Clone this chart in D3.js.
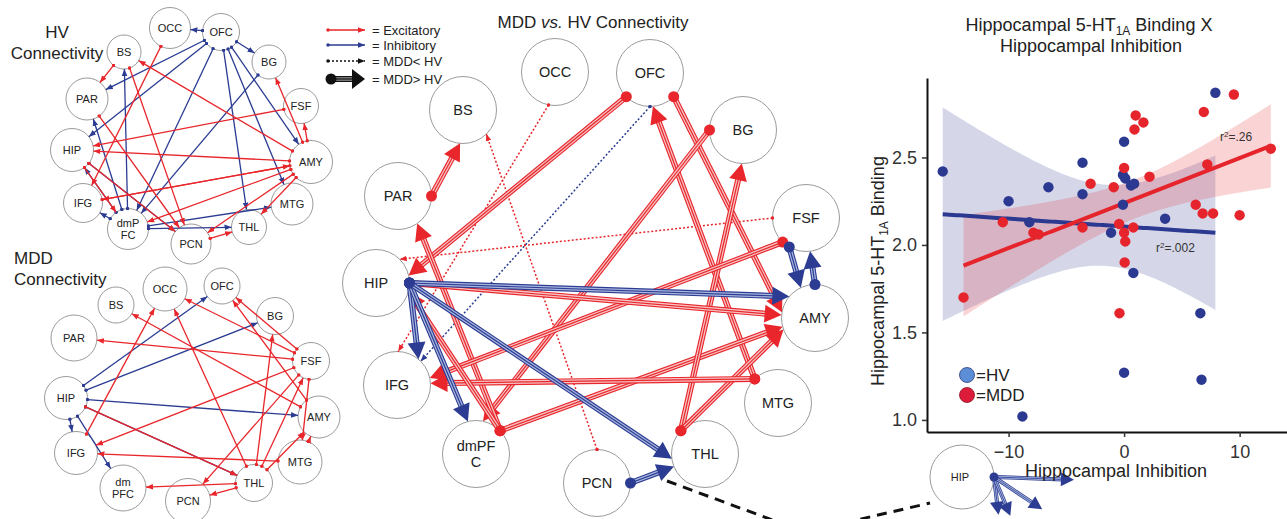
<!DOCTYPE html>
<html>
<head>
<meta charset="utf-8">
<script src="https://cdn.jsdelivr.net/npm/d3@7/dist/d3.min.js"></script>
<style>
  body { margin: 0; background: #fff; }
  svg { display: block; font-family: "Liberation Sans", Arial, sans-serif; }
</style>
</head>
<body>
<svg id="fig" width="1287" height="519"></svg>
<script>
// ---------------- data ----------------
var regionNames = ["OCC", "OFC", "BS", "BG", "PAR", "FSF", "HIP", "AMY", "IFG", "MTG", "dmPFC", "THL", "PCN"];

// effective connections [from, to, sign]  (+1 excitatory, -1 inhibitory)
var hvEdges = [
  ["OFC", "OCC", -1], ["OFC", "BG", -1], ["OFC", "PAR", -1], ["OFC", "HIP", -1], ["OFC", "dmPFC", -1],
  ["OFC", "AMY", -1], ["OFC", "MTG", -1], ["OFC", "THL", -1], ["BG", "dmPFC", -1], ["dmPFC", "BS", -1],
  ["dmPFC", "PAR", -1], ["dmPFC", "HIP", -1], ["dmPFC", "IFG", -1], ["dmPFC", "MTG", -1],
  ["dmPFC", "THL", -1], ["HIP", "PCN", -1],
  ["BS", "PAR", 1], ["OCC", "IFG", 1], ["AMY", "BS", 1], ["AMY", "BG", 1], ["AMY", "FSF", 1],
  ["FSF", "HIP", 1], ["AMY", "HIP", 1], ["IFG", "AMY", 1], ["AMY", "IFG", 1], ["AMY", "PCN", 1],
  ["AMY", "THL", 1], ["PAR", "PCN", 1], ["BS", "PCN", 1], ["HIP", "dmPFC", 1], ["HIP", "PCN", 1],
  ["PCN", "THL", 1], ["AMY", "dmPFC", 1]
];

var mddEdges = [
  ["HIP", "OFC", -1], ["HIP", "BG", -1], ["HIP", "AMY", -1], ["HIP", "IFG", -1], ["HIP", "dmPFC", -1],
  ["HIP", "THL", -1],
  ["IFG", "OCC", 1], ["FSF", "OCC", 1], ["FSF", "PAR", 1], ["AMY", "BS", 1], ["AMY", "OFC", 1],
  ["FSF", "OFC", 1], ["THL", "OCC", 1], ["THL", "BG", 1], ["THL", "FSF", 1], ["FSF", "IFG", 1],
  ["FSF", "PCN", 1], ["FSF", "MTG", 1], ["THL", "AMY", 1], ["MTG", "IFG", 1], ["THL", "dmPFC", 1],
  ["THL", "PCN", 1], ["HIP", "THL", 1], ["MTG", "AMY", 1]
];

// MDD vs HV: [from, to, sign, change]  change +1 = MDD > HV, -1 = MDD < HV
var diffEdges = [
  ["FSF", "HIP", 1, -1], ["PCN", "BS", 1, -1], ["OCC", "IFG", 1, -1], ["OFC", "IFG", -1, -1],
  ["PAR", "BS", 1, 1], ["OFC", "HIP", 1, 1], ["OFC", "AMY", 1, 1], ["MTG", "OFC", 1, 1],
  ["BG", "dmPFC", 1, 1], ["dmPFC", "PAR", 1, 1], ["dmPFC", "AMY", 1, 1], ["THL", "BG", 1, 1],
  ["THL", "AMY", 1, 1], ["MTG", "IFG", 1, 1], ["FSF", "IFG", 1, 1], ["HIP", "AMY", 1, 1],
  ["dmPFC", "HIP", 1, 1],
  ["HIP", "AMY", -1, 1], ["HIP", "IFG", -1, 1], ["HIP", "dmPFC", -1, 1], ["HIP", "THL", -1, 1],
  ["PCN", "THL", -1, 1], ["FSF", "AMY", -1, 1], ["AMY", "FSF", -1, 1]
];

// scatter: hippocampal inhibition (x) vs hippocampal 5-HT1A binding (y)
var hvInhibition = [-15.7, -10.0, -8.2, -6.55, -3.6, -3.6, -1.13, 0.0, -0.1, 0.1, 0.6, 0.87, -0.1, 3.55, 0.8, 7.9, 6.6, 0.0, 6.7, -8.8];
var hvBinding    = [2.42, 2.25, 2.13, 2.33, 2.47, 2.29, 2.07, 2.59, 2.40, 2.38, 2.34, 2.35, 2.23, 2.15, 1.84, 2.87, 1.61, 1.27, 1.23, 1.02];
var mddInhibition = [-13.9, -10.5, -7.85, -7.4, -3.6, -2.9, -0.9, 0.0, -0.43, 0.0, 0.1, 0.8, 0.05, -0.4, 1.0, 0.9, 1.67, 2.2, 6.2, 6.8, 7.7, 7.2, 6.9, 9.5, 10.0, 12.7];
var mddBinding    = [1.70, 2.13, 2.07, 2.06, 2.10, 2.35, 2.33, 2.44, 2.12, 2.07, 2.02, 2.10, 1.90, 1.61, 2.74, 2.66, 2.70, 2.39, 2.23, 2.18, 2.18, 2.46, 2.76, 2.86, 2.17, 2.55];
var xTickValues = [-10, 0, 10];
var yTickValues = [1.0, 1.5, 2.0, 2.5];
var r2Values = [".26", ".002"];

// ---------------- layout ----------------
var RED = "#e8262b", BLUE = "#2b3c92", RED_IN = "#f7c3c3", BLUE_IN = "#a9b6df";

// node centre x, y and radius for each diagram
var hvLayout = {OCC: [170, 28, 20.5], OFC: [221, 32, 18.5], BS: [124, 52, 17], BG: [269, 62, 17],
  PAR: [87, 99, 21], FSF: [301, 106, 17.5], HIP: [72, 150, 21.5], AMY: [311, 162, 21.5],
  IFG: [83, 203, 19.5], MTG: [292, 204, 21], dmPFC: [128, 229, 20.5], THL: [249, 227, 17.5], PCN: [191, 244, 20]};
var mddLayout = {OCC: [165, 289, 22], OFC: [222, 286, 18], BS: [116, 305, 18], BG: [275, 316, 18.5],
  PAR: [74, 338, 23], FSF: [311, 361, 18.5], HIP: [66, 398, 21.5], AMY: [319, 417, 21],
  IFG: [76, 453, 21.5], MTG: [300, 462, 22], dmPFC: [123, 488, 23], THL: [254, 483, 18.5], PCN: [188, 501, 22.5]};
var diffLayout = {OCC: [555, 72, 33.5], OFC: [650, 73, 33.5], BS: [463, 110, 33.5], BG: [743, 130, 33.5],
  PAR: [398, 196, 33.5], FSF: [806, 218, 33.5], HIP: [376, 283, 33.5], AMY: [815, 318, 33.5],
  IFG: [397, 385, 33.5], MTG: [778, 403, 33.5], dmPFC: [476, 454, 33.5], THL: [705, 454, 33.5], PCN: [597, 483, 33.5]};
// where each MDD vs HV edge leaves / meets its circles (degrees, svg orientation)
var diffAnchors = [
  [180, -45], [-90, 46], [101, -88], [90, -45],
  [0, 95], [135, -13], [45, 190], [226, 85],
  [180, -78], [-44, 55], [-44, 165], [-136, 92],
  [-136, 160], [226, -3], [134, -12], [0, 185],
  [-44, 15],
  [0, 220], [0, -50], [0, -104], [0, 172],
  [0, 158], [120, -115], [-90, 83]
];
var hvLabels = {dmPFC: "dmP\nFC"}, mddLabels = {dmPFC: "dm\nPFC"}, diffLabels = {dmPFC: "dmPF\nC"};

var svg = d3.select("#fig");
var defs = svg.append("defs");
[["R", RED], ["B", BLUE], ["K", "#111"]].forEach(function(m) {
  defs.append("marker").attr("id", "arr" + m[0]).attr("viewBox", "0 -5 10 10")
    .attr("refX", 10).attr("refY", 0).attr("markerWidth", 7).attr("markerHeight", 7)
    .attr("markerUnits", "userSpaceOnUse").attr("orient", "auto")
    .append("path").attr("d", "M0,-4L10,0L0,4Z").attr("fill", m[1]);
  defs.append("marker").attr("id", "dot" + m[0]).attr("viewBox", "-5 -5 10 10")
    .attr("refX", 0).attr("refY", 0).attr("markerWidth", 3.5).attr("markerHeight", 3.5)
    .attr("markerUnits", "userSpaceOnUse")
    .append("circle").attr("r", 5).attr("fill", m[1]);
});

function rad(a) { return a * Math.PI / 180; }
function onCircle(n, a) { return [n[0] + n[2] * Math.cos(rad(a)), n[1] + n[2] * Math.sin(rad(a))]; }

function drawNodes(g, layout, labels, fs) {
  var nodes = regionNames.map(function(k) { return {id: k, x: layout[k][0], y: layout[k][1], r: layout[k][2]}; });
  g.selectAll("circle.node").data(nodes).join("circle").attr("class", "node")
    .attr("cx", function(d) { return d.x; }).attr("cy", function(d) { return d.y; })
    .attr("r", function(d) { return d.r; })
    .attr("fill", "#fff").attr("stroke", "#9b9b9b").attr("stroke-width", 1);
  g.selectAll("text.lab").data(nodes).join("text").attr("class", "lab")
    .attr("text-anchor", "middle").attr("font-size", fs).attr("fill", "#222")
    .attr("y", function(d) { return d.y; })
    .each(function(d) {
      var lines = (labels[d.id] || d.id).split("\n"), t = d3.select(this);
      lines.forEach(function(s, i) {
        t.append("tspan").attr("x", d.x)
          .attr("dy", i === 0 ? (0.35 - (lines.length - 1) * 0.55) + "em" : "1.1em").text(s);
      });
    });
}

function drawSmallNet(layout, edges, labels) {
  var g = svg.append("g");
  drawNodes(g, layout, labels, 11);
  g.selectAll("line.edge").data(edges).join("line").attr("class", "edge")
    .each(function(e) {
      var a = layout[e[0]], b = layout[e[1]];
      var dx = b[0] - a[0], dy = b[1] - a[1], len = Math.hypot(dx, dy), ux = dx / len, uy = dy / len;
      d3.select(this)
        .attr("x1", a[0] + ux * a[2]).attr("y1", a[1] + uy * a[2])
        .attr("x2", b[0] - ux * b[2]).attr("y2", b[1] - uy * b[2]);
    })
    .attr("stroke", function(e) { return e[2] > 0 ? RED : BLUE; })
    .attr("stroke-width", 1.3)
    .attr("marker-end", function(e) { return e[2] > 0 ? "url(#arrR)" : "url(#arrB)"; })
    .attr("marker-start", function(e) { return e[2] > 0 ? "url(#dotR)" : "url(#dotB)"; });
}

function thickArrow(g, p1, p2, col, inner, w, L, hw, dotR) {
  var dx = p2[0] - p1[0], dy = p2[1] - p1[1], len = Math.hypot(dx, dy), ux = dx / len, uy = dy / len;
  var bx = p2[0] - ux * L, by = p2[1] - uy * L;
  [[w, col], [w * 0.62, inner], [w * 0.2, col]].forEach(function(s) {
    g.append("line").attr("x1", p1[0]).attr("y1", p1[1]).attr("x2", bx + ux * 2).attr("y2", by + uy * 2)
      .attr("stroke", s[1]).attr("stroke-width", s[0]);
  });
  g.append("path").attr("fill", col)
    .attr("d", "M" + p2[0] + "," + p2[1] + "L" + (bx - uy * hw) + "," + (by + ux * hw) +
      "L" + (bx + uy * hw) + "," + (by - ux * hw) + "Z");
  if (dotR) g.append("circle").attr("cx", p1[0]).attr("cy", p1[1]).attr("r", dotR).attr("fill", col);
}

function dottedArrow(g, p1, p2, col, mk) {
  g.append("line").attr("x1", p1[0]).attr("y1", p1[1]).attr("x2", p2[0]).attr("y2", p2[1])
    .attr("stroke", col).attr("stroke-width", 1.5).attr("stroke-dasharray", "2,2")
    .attr("marker-end", "url(#arr" + mk + ")").attr("marker-start", "url(#dot" + mk + ")");
}

// ---------------- left: HV and MDD networks ----------------
drawSmallNet(hvLayout, hvEdges, hvLabels);
drawSmallNet(mddLayout, mddEdges, mddLabels);

var titles = svg.append("g").attr("font-size", 17).attr("fill", "#222");
titles.append("text").attr("x", 57).attr("y", 38).attr("text-anchor", "middle").text("HV");
titles.append("text").attr("x", 57).attr("y", 59).attr("text-anchor", "middle").text("Connectivity");
titles.append("text").attr("x", 14).attr("y", 264).text("MDD");
titles.append("text").attr("x", 14).attr("y", 285).text("Connectivity");

// ---------------- middle: MDD vs HV ----------------
var gd = svg.append("g");
drawNodes(gd, diffLayout, diffLabels, 14.5);
diffEdges.forEach(function(e, i) {
  var p1 = onCircle(diffLayout[e[0]], diffAnchors[i][0]);
  var p2 = onCircle(diffLayout[e[1]], diffAnchors[i][1]);
  var col = e[2] > 0 ? RED : BLUE;
  if (e[3] < 0) dottedArrow(gd, p1, p2, col, e[2] > 0 ? "R" : "B");
  else thickArrow(gd, p1, p2, col, e[2] > 0 ? RED_IN : BLUE_IN, 6, 17, 9, 5.5);
});

var mt = svg.append("text").attr("x", 593).attr("y", 28).attr("text-anchor", "middle")
  .attr("font-size", 17).attr("fill", "#222");
mt.append("tspan").text("MDD ");
mt.append("tspan").attr("font-style", "italic").text("vs.");
mt.append("tspan").text(" HV Connectivity");

// legend
var lg = svg.append("g").attr("font-size", 13).attr("fill", "#222");
var legendRows = [
  {label: "= Excitatory", y: 30, kind: "R"},
  {label: "= Inhibitory", y: 45, kind: "B"},
  {label: "= MDD< HV", y: 61, kind: "dot"},
  {label: "= MDD> HV", y: 79, kind: "thick"}
];
legendRows.forEach(function(r) {
  if (r.kind === "R" || r.kind === "B") {
    lg.append("line").attr("x1", 328).attr("x2", 365).attr("y1", r.y).attr("y2", r.y)
      .attr("stroke", r.kind === "R" ? RED : BLUE).attr("stroke-width", 1.4)
      .attr("marker-end", "url(#arr" + r.kind + ")").attr("marker-start", "url(#dot" + r.kind + ")");
  } else if (r.kind === "dot") {
    dottedArrow(lg, [328, r.y], [365, r.y], "#111", "K");
  } else {
    thickArrow(lg, [331, r.y], [365, r.y], "#111", "#888", 6, 13, 10, 5.5);
  }
  lg.append("text").attr("x", 372).attr("y", r.y + 5).text(r.label);
});

// inset: hippocampal outflow (blue, MDD > HV)
var insetNode = [962, 477, 32];
var insetLengths = [80, 38, 42, 58];
var gi = svg.append("g");
gi.append("circle").attr("cx", insetNode[0]).attr("cy", insetNode[1]).attr("r", insetNode[2])
  .attr("fill", "#fff").attr("stroke", "#9b9b9b");
gi.append("text").attr("x", insetNode[0] - 2).attr("y", insetNode[1] + 4).attr("text-anchor", "middle")
  .attr("font-size", 11).attr("fill", "#222").text("HIP");
var hipOut = diffEdges.map(function(e, i) { return [e, i]; })
  .filter(function(d) { return d[0][0] === "HIP" && d[0][2] < 0; });
var insetStart = onCircle(insetNode, 0);
hipOut.forEach(function(d, k) {
  var e = d[0], i = d[1];
  var a = onCircle(diffLayout[e[0]], diffAnchors[i][0]), b = onCircle(diffLayout[e[1]], diffAnchors[i][1]);
  var ang = Math.atan2(b[1] - a[1], b[0] - a[0]);
  var end = [insetStart[0] + Math.cos(ang) * insetLengths[k], insetStart[1] + Math.sin(ang) * insetLengths[k]];
  thickArrow(gi, insetStart, end, BLUE, BLUE_IN, 4, 13, 7, 0);
});
gi.append("circle").attr("cx", insetStart[0]).attr("cy", insetStart[1]).attr("r", 4.5).attr("fill", BLUE);

var leader = [[667, 481], [805, 532], [930, 503]];
svg.append("path").attr("d", d3.line()(leader)).attr("fill", "none")
  .attr("stroke", "#111").attr("stroke-width", 3).attr("stroke-dasharray", "10,7");

// ---------------- right: scatter ----------------
var x = d3.scaleLinear().domain([-17.06, 14.1]).range([927, 1287]);
var y = d3.scaleLinear().domain([0.931, 2.954]).range([432, 78]);

function linearFit(xs, ys, tcrit) {
  var n = xs.length, mx = d3.mean(xs), my = d3.mean(ys);
  var sxx = d3.sum(xs, function(v) { return (v - mx) * (v - mx); });
  var sxy = d3.sum(xs, function(v, i) { return (v - mx) * (ys[i] - my); });
  var b = sxy / sxx, a = my - b * mx;
  var sse = d3.sum(xs, function(v, i) { var r = ys[i] - (a + b * v); return r * r; });
  var s = Math.sqrt(sse / (n - 2));
  var lo = d3.min(xs), hi = d3.max(xs);
  return d3.range(0, 81).map(function(k) {
    var xv = lo + (hi - lo) * k / 80;
    var se = s * Math.sqrt(1 / n + (xv - mx) * (xv - mx) / sxx);
    var yv = a + b * xv;
    return {x: xv, y: yv, lo: yv - tcrit * se, hi: yv + tcrit * se};
  });
}

var groups = [
  {xs: hvInhibition, ys: hvBinding, col: "#2b3990", t: 2.101},
  {xs: mddInhibition, ys: mddBinding, col: "#e5242b", t: 2.064}
];
groups.forEach(function(gr) { gr.fit = linearFit(gr.xs, gr.ys, gr.t); });

var gs = svg.append("g");
var band = d3.area().x(function(d) { return x(d.x); })
  .y0(function(d) { return y(d.lo); }).y1(function(d) { return y(d.hi); });
var fitLine = d3.line().x(function(d) { return x(d.x); }).y(function(d) { return y(d.y); });
groups.forEach(function(gr) {
  gs.append("path").attr("d", band(gr.fit)).attr("fill", gr.col).attr("fill-opacity", 0.2);
});
groups.forEach(function(gr) {
  gs.append("path").attr("d", fitLine(gr.fit)).attr("fill", "none")
    .attr("stroke", gr.col).attr("stroke-width", 4);
});
groups.forEach(function(gr) {
  gs.selectAll(null).data(gr.xs).join("circle")
    .attr("cx", function(d) { return x(d); })
    .attr("cy", function(d, i) { return y(gr.ys[i]); })
    .attr("r", 5.2).attr("fill", gr.col);
});

var xAxis = svg.append("g").attr("transform", "translate(0,432)")
  .call(d3.axisBottom(x).tickValues(xTickValues).tickSize(5).tickSizeOuter(0).tickPadding(8));
var yAxis = svg.append("g").attr("transform", "translate(927,0)")
  .call(d3.axisLeft(y).tickValues(yTickValues).tickFormat(d3.format(".1f")).tickSize(5).tickSizeOuter(0).tickPadding(5));
[xAxis, yAxis].forEach(function(ax) {
  ax.attr("font-family", null).attr("font-size", 18);
  ax.select(".domain").attr("stroke", "#111").attr("stroke-width", 2);
  ax.selectAll(".tick line").attr("stroke", "#333").attr("stroke-width", 1.5);
  ax.selectAll(".tick text").attr("fill", "#333");
});

// r-squared labels
var r2Pos = [[1220, 141], [1156, 252]];
r2Values.forEach(function(v, i) {
  var t = svg.append("text").attr("x", r2Pos[i][0]).attr("y", r2Pos[i][1]).attr("font-size", 12).attr("fill", "#333");
  t.append("tspan").text("r");
  t.append("tspan").attr("dy", -4).attr("font-size", 8).text("2");
  t.append("tspan").attr("dy", 4).text("=" + v);
});

// scatter titles
var st = svg.append("g").attr("font-size", 18).attr("fill", "#222").attr("text-anchor", "middle");
var t1 = st.append("text").attr("x", 1089).attr("y", 31);
t1.append("tspan").text("Hippocampal 5-HT");
t1.append("tspan").attr("dy", 4).attr("font-size", 12).text("1A");
t1.append("tspan").attr("dy", -4).text(" Binding X");
st.append("text").attr("x", 1091).attr("y", 52).text("Hippocampal Inhibition");
st.append("text").attr("x", 1116).attr("y", 477).text("Hippocampal Inhibition");
var yt = st.append("text").attr("transform", "translate(884,271) rotate(-90)");
yt.append("tspan").text("Hippocampal 5-HT");
yt.append("tspan").attr("dy", 4).attr("font-size", 12).text("1A");
yt.append("tspan").attr("dy", -4).text(" Binding");

// group legend
var groupLegend = [{label: "=HV", fill: "#5b8ed6", stroke: "#2a3b7a"}, {label: "=MDD", fill: "#dc1c3a", stroke: "#8a1020"}];
groupLegend.forEach(function(d, i) {
  svg.append("circle").attr("cx", 967).attr("cy", 375 + i * 20).attr("r", 7.5)
    .attr("fill", d.fill).attr("stroke", d.stroke).attr("stroke-width", 0.8);
  svg.append("text").attr("x", 976).attr("y", 381 + i * 20).attr("font-size", 17).attr("fill", "#222").text(d.label);
});
</script>
</body>
</html>
